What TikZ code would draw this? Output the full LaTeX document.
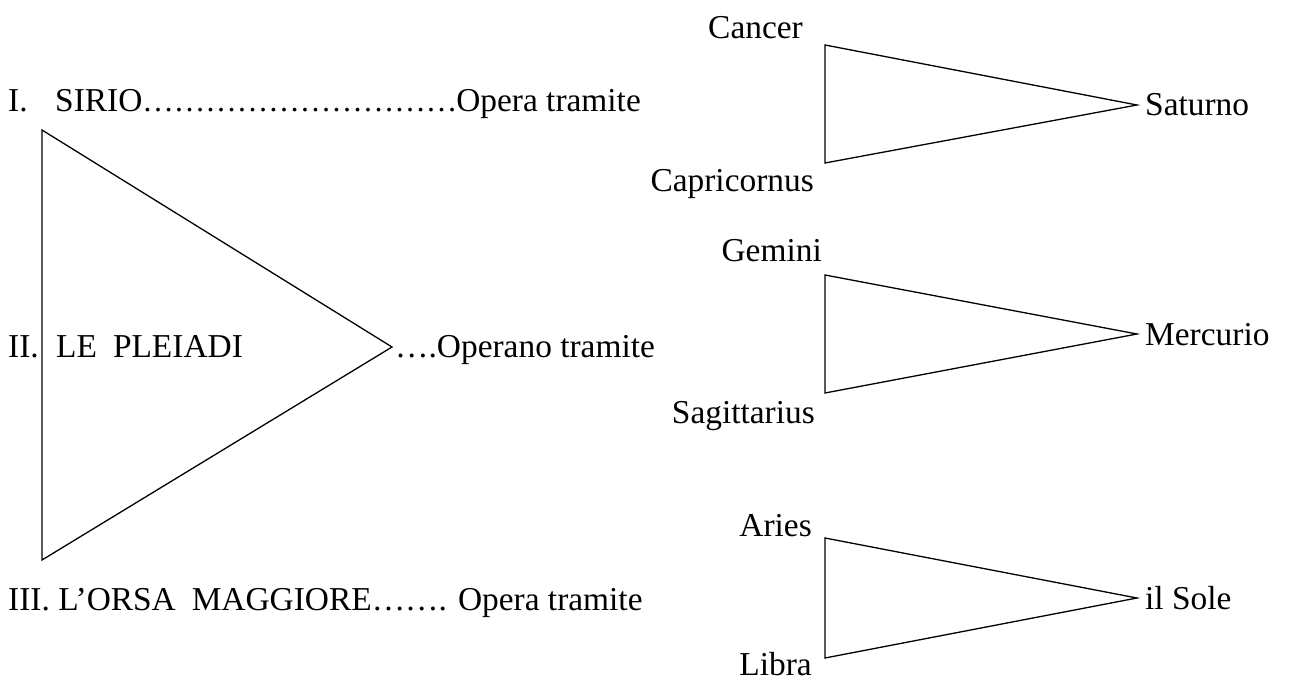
\documentclass[tikz,border=0pt]{standalone}
\usepackage{fontspec}
\setmainfont{Liberation Serif}
\begin{document}
\begin{tikzpicture}[x=1pt,y=-1pt,
  txt/.style={inner sep=0pt, font=\fontsize{33.4}{40}\selectfont},
  tri/.style={draw, line width=1.3pt, line join=miter}]
\useasboundingbox (0,0) rectangle (1291,682);
% left column
\node[txt, anchor=base west] (l1a) at (8,112) {I.};
\node[txt, anchor=base west] (l1b) at (55,112) {SIRIO{\fontsize{31.5}{40}\selectfont …………………………}};
\node[txt, anchor=base east] (l1c) at (641,112) {Opera tramite};
\node[txt, anchor=base west] (l2a) at (8,357) {II.};
\node[txt, anchor=base west] (l2b) at (56,357) {LE\hspace{16pt}PLEIADI};
\node[txt, anchor=base west] (l2c) at (395,357) {….Operano tramite};
\node[txt, anchor=base west] (l3) at (8,610) {III. L’ORSA\hspace{16pt}MAGGIORE……. Opera tramite};
% big triangle
\coordinate (bt) at (42,130);
\coordinate (bb) at (42,560);
\coordinate (br) at (392,347);
\draw[tri] (bt) -- (br) -- (bb) -- cycle;
% right triangles
\coordinate (t1a) at (825,45);  \coordinate (t1b) at (825,163); \coordinate (t1c) at (1137,105);
\coordinate (t2a) at (825,275); \coordinate (t2b) at (825,393); \coordinate (t2c) at (1137,334);
\coordinate (t3a) at (825,538); \coordinate (t3b) at (825,658); \coordinate (t3c) at (1137,598);
\draw[tri] (t1a) -- (t1c) -- (t1b) -- cycle;
\draw[tri] (t2a) -- (t2c) -- (t2b) -- cycle;
\draw[tri] (t3a) -- (t3c) -- (t3b) -- cycle;
% labels
\node[txt, anchor=base east] (cancer) at (803,39) {Cancer};
\node[txt, anchor=base west] (saturno) at (1145,116) {Saturno};
\node[txt, anchor=base east] (capri) at (814,191) {Capricornus};
\node[txt, anchor=base east] (gemini) at (822,261) {Gemini};
\node[txt, anchor=base west] (mercurio) at (1145,345) {Mercurio};
\node[txt, anchor=base east] (sagi) at (815,423) {Sagittarius};
\node[txt, anchor=base east] (aries) at (812,536) {Aries};
\node[txt, anchor=base west] (sole) at (1145,609) {il Sole};
\node[txt, anchor=base east] (libra) at (812,675) {Libra};
\end{tikzpicture}
\end{document}
